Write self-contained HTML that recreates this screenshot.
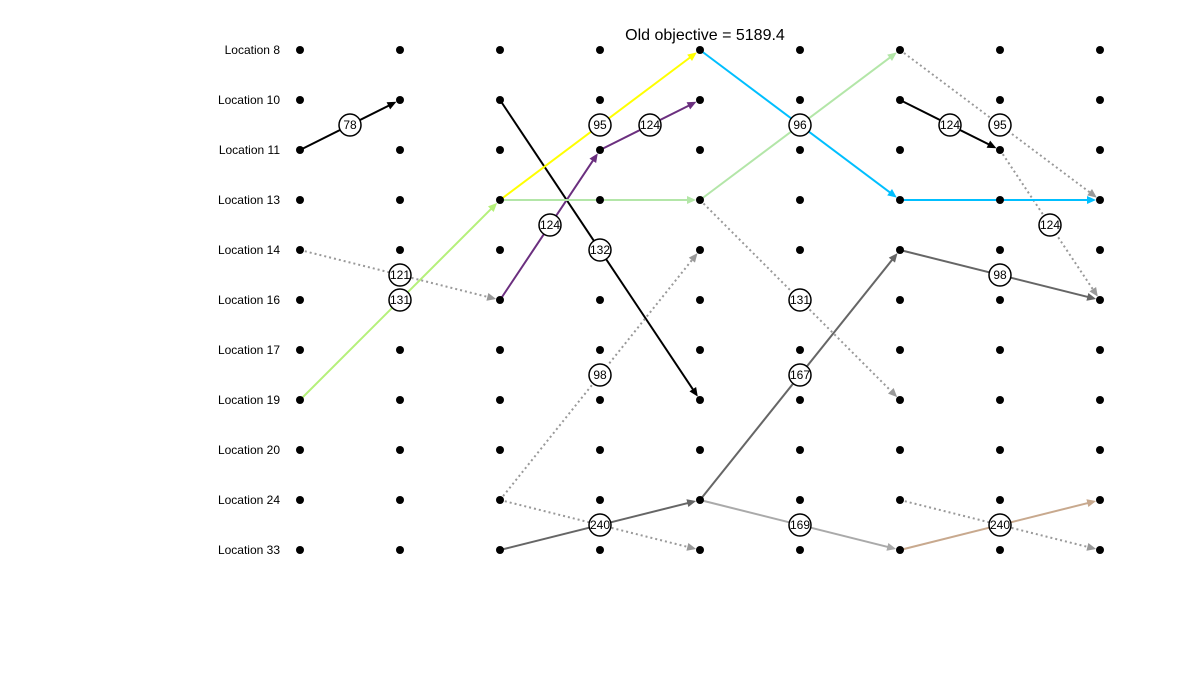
<!DOCTYPE html>
<html><head><meta charset="utf-8"><style>
body{margin:0;background:#fff;}
svg{display:block;font-family:"Liberation Sans",sans-serif;}
</style></head><body>
<svg id="chart" width="1200" height="700" viewBox="0 0 1200 700">
<text x="705" y="40" text-anchor="middle" font-size="16">Old objective = 5189.4</text>
<g id="lines"></g>
<g id="marks"></g>
</svg>
<script>
const locations = ["Location 8","Location 10","Location 11","Location 13","Location 14","Location 16","Location 17","Location 19","Location 20","Location 24","Location 33"];
const columns = [0,1,2,3,4,5,6,7,8];
// arrows: from column, from row index, to column, to row index
const arrowFromCol = [0,2,0,2,2,3,2,4,4,0,2,2,4,4,4,6,6,7,6,6,6,2,6];
const arrowFromRow = [2,1,7,3,5,2,3,3,0,4,9,9,3,9,9,0,1,2,4,10,9,10,3];
const arrowToCol   = [1,4,2,4,3,4,4,6,6,2,4,4,6,6,6,8,7,8,8,8,8,4,8];
const arrowToRow   = [1,7,3,0,2,1,3,0,3,5,4,10,7,4,10,3,2,5,5,9,10,9,3];
const arrowLabel   = ["78","132","131","95","124","124","","96","","121","98","","131","167","169","95","124","124","98","240","","240",""];
const arrowColor   = ["#000","#000","#b5f07a","#ffff00","#6b2f7f","#6b2f7f","#b3e6a8","#b3e6a8","#00bfff","#999","#999","#999","#999","#666","#aaa","#999","#000","#999","#666","#c8a98e","#999","#666","#00bfff"];
const arrowDotted  = [0,0,0,0,0,0,0,0,0,1,1,1,1,0,0,1,0,1,0,0,1,0,0];

const xOf = c => 300 + c*100;
const yOf = r => 50 + r*50;
const NS="http://www.w3.org/2000/svg";
const gl=document.getElementById('lines');
const g=document.getElementById('marks');
function mk(t,a,p){const e=document.createElementNS(NS,t);for(const k in a)e.setAttribute(k,a[k]);(p||g).appendChild(e);return e;}

arrowFromCol.forEach((fc,i)=>{
  const x1=xOf(fc),y1=yOf(arrowFromRow[i]),x2=xOf(arrowToCol[i]),y2=yOf(arrowToRow[i]);
  const col=arrowColor[i];
  const dx=x2-x1,dy=y2-y1,L=Math.hypot(dx,dy),ux=dx/L,uy=dy/L;
  const ex=x2-ux*4,ey=y2-uy*4;
  const ln=mk('line',{x1:x1,y1:y1,x2:ex-ux*6,y2:ey-uy*6,stroke:col,'stroke-width':2,'stroke-dasharray':arrowDotted[i]?'2,3':'none'},gl);
  
  
  const px=-uy,py=ux;
  const hd=mk('polygon',{points:`${ex},${ey} ${ex-ux*9+px*4},${ey-uy*9+py*4} ${ex-ux*9-px*4},${ey-uy*9-py*4}`,fill:col},gl);
  
  
});

locations.forEach((l,i)=>{
  const t=mk('text',{x:280,y:yOf(i)+4,'text-anchor':'end','font-size':12});
  t.textContent=l;
  
  
  columns.forEach(c=>{
    const d=mk('circle',{cx:xOf(c),cy:yOf(i),r:4,fill:'#000'});
    
    
  });
});

arrowFromCol.forEach((fc,i)=>{
  if(!arrowLabel[i]) return;
  const x=(xOf(fc)+xOf(arrowToCol[i]))/2, y=(yOf(arrowFromRow[i])+yOf(arrowToRow[i]))/2;
  const c=mk('circle',{cx:x,cy:y,r:11,fill:'#fff',stroke:'#000','stroke-width':1.5});
  
  
  const tx=mk('text',{x:x,y:y+4,'text-anchor':'middle','font-size':12});
  tx.textContent=arrowLabel[i];
  
  
});
</script>
</body></html>
